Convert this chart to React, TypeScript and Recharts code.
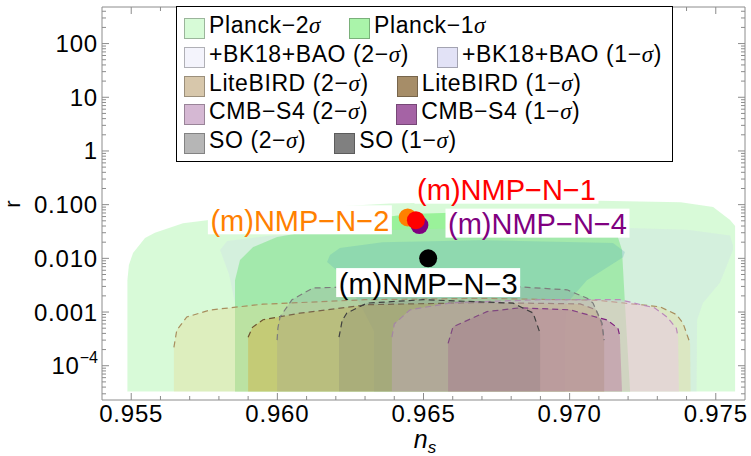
import React from 'react';
import { ComposedChart, Scatter, XAxis, YAxis, Legend } from 'recharts';

const SANS = '"Liberation Sans", Arial, Helvetica, sans-serif';
const SERIF = '"Liberation Serif", "Times New Roman", serif';
const FRAME = '#8c8c8c';

// plot box (px) that the axis sizes below produce
const PL = 102;
const PT = 7;
const PR = 745;
const PB = 400;

const X_DOMAIN = [0.954, 0.976];
const Y_DOMAIN = [2.3e-5, 480];
const R_FLOOR = 3.3e-5;

const xTicks = [
  0.955, 0.956, 0.957, 0.958, 0.959, 0.96, 0.961, 0.962, 0.963, 0.964, 0.965,
  0.966, 0.967, 0.968, 0.969, 0.97, 0.971, 0.972, 0.973, 0.974, 0.975,
];
const xMajor = [0.955, 0.96, 0.965, 0.97, 0.975];
const yMajor = [1e-4, 0.001, 0.01, 0.1, 1, 10, 100];
const yMajorLabels = ['10^-4', '0.001', '0.010', '0.100', '1', '10', '100'];
const yDecades = [1e-5, 1e-4, 0.001, 0.01, 0.1, 1, 10, 100];

const yMinor: number[] = [];
yDecades.forEach((d) => {
  [2, 3, 4, 5, 6, 7, 8, 9].forEach((m) => {
    const v = m * d;
    if (v > Y_DOMAIN[0] && v < Y_DOMAIN[1]) yMinor.push(v);
  });
});
const yTicks = [...yMajor, ...yMinor];

// contour outlines [n_s, r]
const planck2 = [
  [0.95487, R_FLOOR], [0.95487, 0.0039], [0.95492, 0.0075], [0.95506, 0.0125],
  [0.95547, 0.024], [0.95581, 0.03], [0.95677, 0.045], [0.95848, 0.059],
  [0.96077, 0.085], [0.96385, 0.105], [0.9675, 0.115], [0.971, 0.118],
  [0.9738, 0.111], [0.97491, 0.091], [0.97549, 0.052], [0.97566, 0.04],
  [0.97566, R_FLOOR],
];
const planck1 = [
  [0.95855, R_FLOOR], [0.95855, 0.0039], [0.95872, 0.0093], [0.95917, 0.0162],
  [0.95999, 0.025], [0.9619, 0.038], [0.9636, 0.058], [0.9645, 0.067],
  [0.9665, 0.072], [0.9695, 0.073], [0.971, 0.068], [0.97145, 0.05],
  [0.97163, 0.027], [0.97179, 0.0143], [0.97189, 0.0015], [0.97207, R_FLOOR],
];
const bk2 = [
  [0.95855, R_FLOOR], [0.95855, 0.00147], [0.95835, 0.005], [0.95804, 0.0143],
  [0.95828, 0.021], [0.95965, 0.026], [0.963, 0.033], [0.967, 0.037],
  [0.97196, 0.0366], [0.97402, 0.034], [0.97549, 0.0265], [0.97559, 0.0173],
  [0.97559, 0.0143], [0.97514, 0.0035], [0.97456, 0.00147], [0.97436, 0.00071],
  [0.97434, R_FLOOR],
];
const bk1 = [
  [0.96331, R_FLOOR], [0.96331, 0.00044], [0.9628, 0.0015], [0.9622, 0.005],
  [0.9617, 0.0085], [0.9618, 0.0115], [0.96214, 0.0155], [0.9636, 0.02],
  [0.96693, 0.0218], [0.97148, 0.0192], [0.97189, 0.0131], [0.97183, 0.0105],
  [0.97059, 0.0039], [0.96991, 0.00147], [0.96984, 0.0004], [0.96984, R_FLOOR],
];
const liteBird2 = [
  [0.95646, R_FLOOR], [0.95646, 0.00022], [0.95656, 0.00046], [0.9569, 0.00081],
  [0.9577, 0.00109], [0.9595, 0.0014], [0.963, 0.0017], [0.967, 0.0018],
  [0.971, 0.00165], [0.97309, 0.00125], [0.97365, 0.0009], [0.97388, 0.00062],
  [0.97412, 0.00026], [0.97414, R_FLOOR],
];
const liteBird1 = [
  [0.959, R_FLOOR], [0.959, 0.00034], [0.95915, 0.00052], [0.95951, 0.00072],
  [0.96077, 0.00095], [0.96307, 0.00137], [0.967, 0.0015], [0.97036, 0.00142],
  [0.9709, 0.0011], [0.97108, 0.00065], [0.97118, 0.0003], [0.97118, R_FLOOR],
];
const cmbS4_2 = [
  [0.96392, R_FLOOR], [0.96392, 0.00034], [0.964, 0.0006], [0.96454, 0.0011],
  [0.966, 0.0015], [0.969, 0.0017], [0.97172, 0.0017], [0.9729, 0.0012],
  [0.97333, 0.00081], [0.97365, 0.0005], [0.97371, 0.00034], [0.97374, R_FLOOR],
];
const cmbS4_1 = [
  [0.96584, R_FLOOR], [0.96584, 0.00026], [0.96601, 0.00053], [0.96717, 0.00102],
  [0.9683, 0.0012], [0.97001, 0.0011], [0.97128, 0.00071], [0.97165, 0.0005],
  [0.97172, 0.00035], [0.97179, R_FLOOR],
];
const so2 = [
  [0.95999, R_FLOOR], [0.95999, 0.0003], [0.96002, 0.0005], [0.96009, 0.00081],
  [0.9605, 0.0017], [0.96122, 0.0028], [0.964, 0.0031], [0.968, 0.003],
  [0.96991, 0.0026], [0.9706, 0.0018], [0.9708, 0.00147], [0.97111, 0.00062],
  [0.97118, 0.0003], [0.97118, R_FLOOR],
];
const so1 = [
  [0.96211, R_FLOOR], [0.96211, 0.00034], [0.96222, 0.0007], [0.96238, 0.00096],
  [0.96307, 0.00147], [0.965, 0.0017], [0.96806, 0.00147], [0.96875, 0.00096],
  [0.96899, 0.0004], [0.96899, R_FLOOR],
];

// model points
const modelNames = ['(m)NMP−N−2', '(m)NMP−N−4', '(m)NMP−N−1', '(m)NMP−N−3'];
const modelColors = ['#ff8000', '#800080', '#ff0000', '#000000'];
const modelNs = [0.96446, 0.96486, 0.96474, 0.96516];
const modelR = [0.0578, 0.0416, 0.0515, 0.01];
const labelNs = [0.96077, 0.9689, 0.96784, 0.96516];
const labelR = [0.0511, 0.0443, 0.19, 0.00346];

const legendNames = [
  ['Planck−2', ''], ['Planck−1', ''],
  ['+BK18+BAO (2−', ')'], ['+BK18+BAO (1−', ')'],
  ['LiteBIRD (2−', ')'], ['LiteBIRD (1−', ')'],
  ['CMB−S4 (2−', ')'], ['CMB−S4 (1−', ')'],
  ['SO (2−', ')'], ['SO (1−', ')'],
];
const legendColors = [
  '#d7fbd7', '#aaf4aa', '#f4f4fc', '#e2e2f6', '#d7c7ab',
  '#a68d68', '#d5b8d3', '#a563a5', '#b6b6b6', '#808080',
];

const toPts = (arr: number[][]) => arr.map(([ns, r]) => ({ ns, r }));

const regionLine = (fill: string, opacity: number, edge?: string) => (p: any) => {
  const pts = (p.points || []).filter((q: any) => q.x != null && q.y != null);
  if (pts.length < 3) return <g />;
  const path = (list: any[]) =>
    list.map((q, i) => `${i ? 'L' : 'M'}${q.x.toFixed(1)},${q.y.toFixed(1)}`).join('');
  return (
    <g>
      <path d={path(pts) + 'Z'} fill={fill} fillOpacity={opacity} stroke="none" />
      {edge && (
        <path
          d={path(pts.slice(1, -1))}
          fill="none"
          stroke={edge}
          strokeWidth={1.2}
          strokeDasharray="6 4"
        />
      )}
    </g>
  );
};

const noDot = () => <g />;

const regions = [
  { data: planck2, fill: '#7ff07f', op: 0.3 },
  { data: planck1, fill: '#50e850', op: 0.45 },
  { data: bk2, fill: '#c8c8f4', op: 0.2 },
  { data: bk1, fill: '#58acb8', op: 0.27 },
  { data: liteBird2, fill: '#e8d890', op: 0.35, edge: '#a88e5e' },
  { data: liteBird1, fill: '#d0b040', op: 0.45, edge: '#6e5430' },
  { data: cmbS4_2, fill: '#f0c0f0', op: 0.4, edge: '#bb88bb' },
  { data: cmbS4_1, fill: '#b04890', op: 0.3, edge: '#7e227e' },
  { data: so2, fill: '#969696', op: 0.25, edge: '#7c7c7c' },
  { data: so1, fill: '#6e6e6e', op: 0.2, edge: '#404040' },
];

const pointData = modelNames.map((name, i) => ({
  ns: modelNs[i], r: modelR[i], color: modelColors[i],
}));
const labelData = modelNames.map((name, i) => ({
  ns: labelNs[i], r: labelR[i], color: modelColors[i], name,
}));

const PointShape = (p: any) => (
  <circle cx={p.cx} cy={p.cy} r={9} fill={p.payload.color} />
);

const LabelShape = (p: any) => (
  <g>
    <rect x={p.cx - 92} y={p.cy - 15} width={184} height={29} fill="#fff" />
    <text
      x={p.cx}
      y={p.cy + 10.5}
      textAnchor="middle"
      fontFamily={SANS}
      fontSize={29}
      fill={p.payload.color}
    >
      {p.payload.name}
    </text>
  </g>
);

const tickFont = { fontFamily: SANS, fontSize: 24, letterSpacing: 0.8, fill: '#000' };

const BottomTick = (p: any) => {
  const v = p.payload.value;
  const major = xMajor.indexOf(v) >= 0;
  return (
    <g>
      <line x1={p.x} x2={p.x} y1={PB} y2={PB - (major ? 7 : 4)} stroke={FRAME} />
      {major && (
        <text x={p.x} y={422} textAnchor="middle" {...tickFont}>
          {v.toFixed(3)}
        </text>
      )}
    </g>
  );
};

const TopTick = (p: any) => {
  const major = xMajor.indexOf(p.payload.value) >= 0;
  return <line x1={p.x} x2={p.x} y1={PT} y2={PT + (major ? 7 : 4)} stroke={FRAME} />;
};

const LeftTick = (p: any) => {
  const i = yMajor.indexOf(p.payload.value);
  const lab = i >= 0 ? yMajorLabels[i] : '';
  return (
    <g>
      <line x1={PL} x2={PL + (i >= 0 ? 7 : 4)} y1={p.y} y2={p.y} stroke={FRAME} />
      {i >= 0 && (
        <text x={98} y={p.y + 8.5} textAnchor="end" {...tickFont}>
          {lab.indexOf('^') >= 0 ? (
            <>
              {lab.split('^')[0]}
              <tspan dy={-11} fontSize={16} letterSpacing={0}>
                {lab.split('^')[1].replace('-', '−')}
              </tspan>
            </>
          ) : (
            lab
          )}
        </text>
      )}
    </g>
  );
};

const RightTick = (p: any) => {
  const major = yMajor.indexOf(p.payload.value) >= 0;
  return <line x1={PR} x2={PR - (major ? 7 : 4)} y1={p.y} y2={p.y} stroke={FRAME} />;
};

const renderLegend = () => (
  <div
    style={{
      boxSizing: 'border-box',
      width: 497,
      height: 156,
      border: '1px solid #000',
      background: '#fff',
      padding: '7.5px 0 0 7px',
      fontFamily: SANS,
      fontSize: 23,
      letterSpacing: 0.6,
      color: '#000',
    }}
  >
    {[0, 2, 4, 6, 8].map((start) => (
      <div key={start} style={{ display: 'flex', alignItems: 'center', height: 28.7 }}>
        {[start, start + 1].map((k) => (
          <div key={k} style={{ display: 'flex', alignItems: 'center', marginRight: 28 }}>
            <span
              style={{
                display: 'inline-block',
                width: 21,
                height: 21,
                boxSizing: 'border-box',
                background: legendColors[k],
                border: '1px solid rgba(0,0,0,0.28)',
                marginRight: 4,
                flex: 'none',
              }}
            />
            <span style={{ whiteSpace: 'nowrap', lineHeight: 1, position: 'relative', top: -3 }}>
              {legendNames[k][0]}
              <span style={{ fontFamily: SERIF, fontStyle: 'italic' }}>σ</span>
              {legendNames[k][1]}
            </span>
          </div>
        ))}
      </div>
    ))}
  </div>
);

const XLabel = () => (
  <text x={425} y={448} textAnchor="middle" fontFamily={SANS} fontSize={25} fill="#000">
    <tspan fontStyle="italic">n</tspan>
    <tspan fontStyle="italic" fontSize={17} dy={5}>s</tspan>
  </text>
);

const YLabel = () => (
  <text
    transform="translate(20,204) rotate(-90)"
    textAnchor="middle"
    fontFamily={SANS}
    fontSize={22}
    fill="#000"
  >
    r
  </text>
);

export default function App() {
  return (
    <div style={{ position: 'absolute', left: 0, top: 0, width: 751, height: 456, background: '#fff' }}>
      <ComposedChart width={751} height={456} margin={{ top: 0, right: 0, bottom: 0, left: 0 }}>
        <XAxis
          xAxisId={0}
          dataKey="ns"
          type="number"
          domain={X_DOMAIN}
          allowDataOverflow
          ticks={xTicks}
          interval={0}
          height={56}
          tickSize={0}
          tickMargin={0}
          tickLine={false}
          axisLine={{ stroke: FRAME }}
          tick={BottomTick}
          label={<XLabel />}
        />
        <XAxis
          xAxisId="top"
          dataKey="ns"
          orientation="top"
          type="number"
          domain={X_DOMAIN}
          allowDataOverflow
          ticks={xTicks}
          interval={0}
          height={7}
          tickSize={0}
          tickMargin={0}
          tickLine={false}
          axisLine={{ stroke: FRAME }}
          tick={TopTick}
        />
        <YAxis
          yAxisId={0}
          dataKey="r"
          type="number"
          scale="log"
          domain={Y_DOMAIN}
          allowDataOverflow
          ticks={yTicks}
          interval={0}
          width={102}
          tickSize={0}
          tickMargin={0}
          tickLine={false}
          axisLine={{ stroke: FRAME }}
          tick={LeftTick}
          label={<YLabel />}
        />
        <YAxis
          yAxisId="right"
          dataKey="r"
          orientation="right"
          type="number"
          scale="log"
          domain={Y_DOMAIN}
          allowDataOverflow
          ticks={yTicks}
          interval={0}
          width={6}
          tickSize={0}
          tickMargin={0}
          tickLine={false}
          axisLine={{ stroke: FRAME }}
          tick={RightTick}
        />
        <Legend
          layout="horizontal"
          verticalAlign="middle"
          align="center"
          content={renderLegend}
          wrapperStyle={{ left: 176, top: 6, width: 497, height: 156 }}
        />
        {regions.map((g, i) => (
          <Scatter
            key={`region-${i}`}
            data={toPts(g.data)}
            lineType="joint"
            line={regionLine(g.fill, g.op, g.edge)}
            shape={noDot}
            isAnimationActive={false}
          />
        ))}
        <Scatter data={pointData} shape={PointShape} isAnimationActive={false} />
        <Scatter data={labelData} shape={LabelShape} isAnimationActive={false} />
      </ComposedChart>
    </div>
  );
}
